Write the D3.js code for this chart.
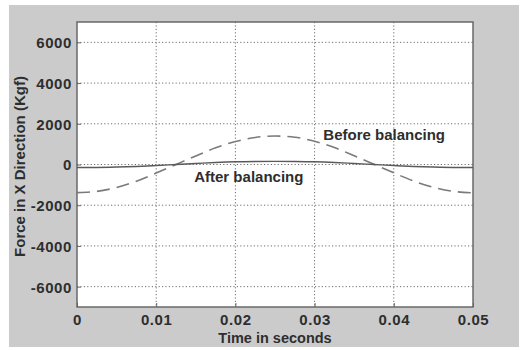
<!DOCTYPE html>
<html>
<head>
<meta charset="utf-8">
<script src="https://cdn.jsdelivr.net/npm/d3@7"></script>
<style>
  html, body { margin: 0; padding: 0; background: #fff; }
  svg { display: block; }
  text { font-family: "Liberation Sans", Arial, Helvetica, sans-serif; font-weight: bold; fill: #2e2e2e; }
</style>
</head>
<body>
<svg id="chart" width="524" height="350"></svg>
<script>
// Time samples (s)
const time = [0, 0.0025, 0.005, 0.0075, 0.01, 0.0125, 0.015, 0.0175, 0.02, 0.0225, 0.025,
              0.0275, 0.03, 0.0325, 0.035, 0.0375, 0.04, 0.0425, 0.045, 0.0475, 0.05];
// Force in X direction before balancing (Kgf)
const beforeBalancing = [-1380, -1320, -1130, -820, -420, 0, 420, 820, 1130, 1330, 1400,
                         1340, 1140, 830, 430, 10, -410, -810, -1120, -1320, -1390];
// Force in X direction after balancing (Kgf)
const afterBalancing = [-150, -145, -125, -95, -50, 0, 50, 100, 135, 150, 155,
                        150, 135, 100, 50, 0, -50, -95, -125, -145, -150];
// Axis ticks
const xTicks = [0, 0.01, 0.02, 0.03, 0.04, 0.05];
const yTicks = [-6000, -4000, -2000, 0, 2000, 4000, 6000];
// Curve annotations
const labels = [
  { text: "Before balancing", t: 0.0311, f: 1450 },
  { text: "After balancing", t: 0.0148, f: -580 }
];

const svg = d3.select("#chart");
const W = 524, H = 350;
const m = { left: 77, top: 22, right: 51, bottom: 43 };
const pw = W - m.left - m.right, ph = H - m.top - m.bottom;

// figure background
svg.append("rect").attr("x", 9).attr("y", 5).attr("width", 510).attr("height", 342).attr("fill", "#cbcbcb");

const x = d3.scaleLinear().domain([0, 0.05]).range([m.left, m.left + pw]);
const y = d3.scaleLinear().domain([-7000, 7000]).range([m.top + ph, m.top]);

// plot area
svg.append("rect").attr("x", m.left).attr("y", m.top).attr("width", pw).attr("height", ph).attr("fill", "#fff");

// dotted grid
const grid = svg.append("g").attr("stroke", "#6e6e6e").attr("stroke-width", 1).attr("stroke-dasharray", "1.2,2.2");
grid.selectAll("line.gx").data(xTicks.slice(1, -1)).join("line")
  .attr("x1", d => x(d)).attr("x2", d => x(d)).attr("y1", m.top).attr("y2", m.top + ph);
grid.selectAll("line.gy").data(yTicks).join("line")
  .attr("y1", d => y(d)).attr("y2", d => y(d)).attr("x1", m.left).attr("x2", m.left + pw);

// axes with ticks pointing inward; plain hyphen for negatives
const xAxis = d3.axisBottom(x).tickValues(xTicks).tickSizeInner(-4).tickSizeOuter(0)
  .tickPadding(7).tickFormat(d => d === 0 ? "0" : d3.format(".2f")(d));
const yAxis = d3.axisLeft(y).tickValues(yTicks).tickSizeInner(-4).tickSizeOuter(0)
  .tickPadding(5).tickFormat(d => String(d));

const gx = svg.append("g").attr("transform", `translate(0,${m.top + ph})`).call(xAxis);
const gy = svg.append("g").attr("transform", `translate(${m.left},0)`).call(yAxis);
[gx, gy].forEach(g => {
  g.select(".domain").remove();
  g.selectAll(".tick line").attr("stroke", "#666");
  g.selectAll(".tick text").attr("font-size", 15).attr("fill", "#333")
    .style("font-family", "'Liberation Sans', Arial, sans-serif").style("font-weight", "bold")
    .attr("letter-spacing", 0.6);
});
gy.selectAll(".tick text").attr("dy", "0.36em");

// plot frame
svg.append("rect").attr("x", m.left).attr("y", m.top).attr("width", pw).attr("height", ph)
  .attr("fill", "none").attr("stroke", "#606060").attr("stroke-width", 1.4);

const line = d3.line().x((d, i) => x(time[i])).y(d => y(d)).curve(d3.curveMonotoneX);

svg.append("path").datum(beforeBalancing).attr("d", line)
  .attr("fill", "none").attr("stroke", "#7a7a7a").attr("stroke-width", 1.6)
  .attr("stroke-dasharray", "13,7");
svg.append("path").datum(afterBalancing).attr("d", line)
  .attr("fill", "none").attr("stroke", "#5a5a5a").attr("stroke-width", 1.4);

svg.selectAll("text.ann").data(labels).join("text").attr("class", "ann")
  .attr("x", d => x(d.t)).attr("y", d => y(d.f)).attr("dy", "0.35em")
  .attr("font-size", 15).text(d => d.text);

// axis titles
svg.append("text").attr("x", m.left + pw / 2).attr("y", 343).attr("text-anchor", "middle")
  .attr("font-size", 14.5).text("Time in seconds");
svg.append("text").attr("transform", `translate(25,${m.top + ph / 2 + 2}) rotate(-90)`)
  .attr("text-anchor", "middle").attr("font-size", 15).text("Force in X Direction (Kgf)");
</script>
</body>
</html>
